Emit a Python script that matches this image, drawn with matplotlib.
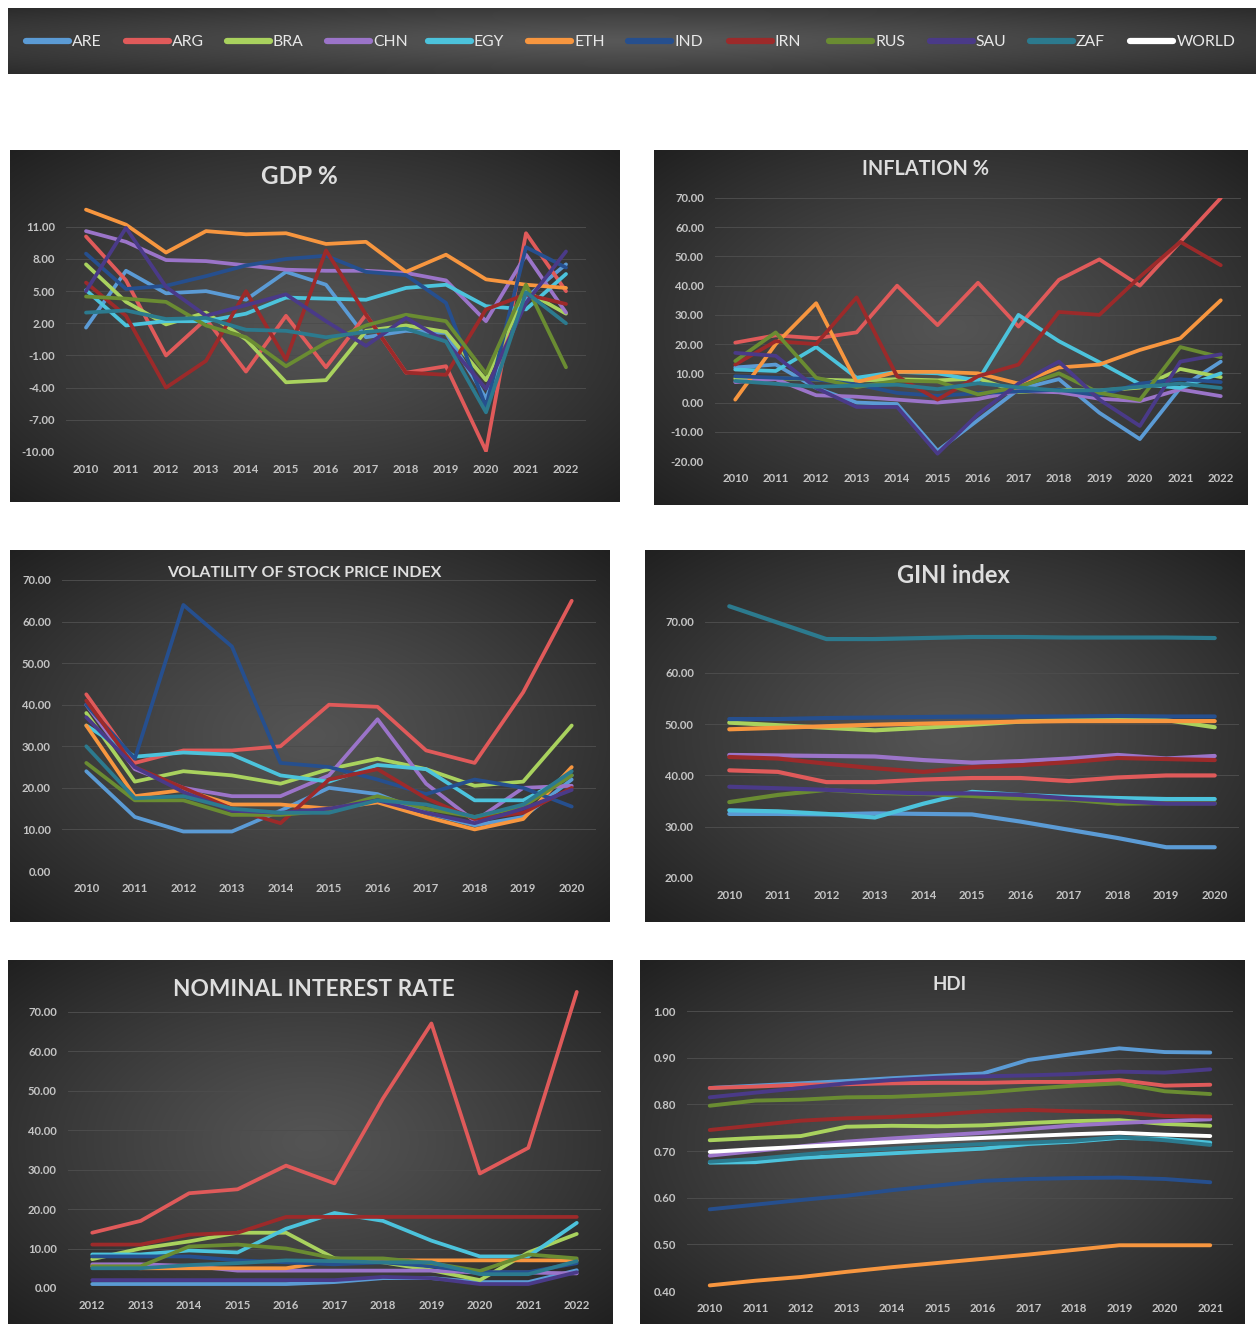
import numpy as np
import matplotlib
matplotlib.use("Agg")
import matplotlib.pyplot as plt

plt.rcParams['font.family'] = ['Lato', 'DejaVu Sans']

W, H = 1256, 1324

countries = ["ARE", "ARG", "BRA", "CHN", "EGY", "ETH", "IND", "IRN", "RUS", "SAU", "ZAF", "WORLD"]
colors = {
    "ARE": "#5b9bd5", "ARG": "#e05a5a", "BRA": "#a9d25e", "CHN": "#9b74c9",
    "EGY": "#4cc3dc", "ETH": "#f7963f", "IND": "#264f8e", "IRN": "#9c2a2a",
    "RUS": "#6a8c32", "SAU": "#4a3a88", "ZAF": "#2c7a8e", "WORLD": "#ffffff",
}

# ---------------- data ----------------
years_gdp = [2010, 2011, 2012, 2013, 2014, 2015, 2016, 2017, 2018, 2019, 2020, 2021, 2022]
gdp = {
    "ARE": [1.6, 6.9, 4.8, 5.0, 4.2, 6.8, 5.6, 0.7, 1.3, 1.1, -5.0, 4.4, 7.5],
    "ARG": [10.1, 6.0, -1.0, 2.4, -2.5, 2.7, -2.1, 2.8, -2.6, -2.0, -9.9, 10.4, 5.0],
    "BRA": [7.5, 4.0, 1.9, 3.0, 0.5, -3.5, -3.3, 1.3, 1.8, 1.2, -3.3, 5.0, 2.9],
    "CHN": [10.6, 9.6, 7.9, 7.8, 7.4, 7.0, 6.9, 6.9, 6.7, 6.0, 2.2, 8.4, 3.0],
    "EGY": [5.1, 1.8, 2.2, 2.2, 2.9, 4.4, 4.3, 4.2, 5.3, 5.6, 3.6, 3.3, 6.6],
    "ETH": [12.6, 11.2, 8.6, 10.6, 10.3, 10.4, 9.4, 9.6, 6.8, 8.4, 6.1, 5.6, 5.3],
    "IND": [8.5, 5.2, 5.5, 6.4, 7.4, 8.0, 8.3, 6.8, 6.5, 3.9, -5.8, 9.1, 7.2],
    "IRN": [5.8, 2.7, -4.0, -1.5, 5.0, -1.4, 8.8, 2.8, -2.6, -2.8, 3.3, 4.7, 3.8],
    "RUS": [4.5, 4.3, 4.0, 1.8, 0.7, -2.0, 0.2, 1.8, 2.8, 2.2, -2.7, 5.6, -2.1],
    "SAU": [5.0, 10.9, 5.4, 2.7, 3.7, 4.7, 2.2, -0.1, 2.5, 0.3, -4.1, 3.9, 8.7],
    "ZAF": [3.0, 3.2, 2.4, 2.5, 1.4, 1.3, 0.7, 1.2, 1.5, 0.3, -6.3, 4.9, 2.0],
}

years_infl = [2010, 2011, 2012, 2013, 2014, 2015, 2016, 2017, 2018, 2019, 2020, 2021, 2022]
inflation = {
    "ARE": [12.0, 13.0, 5.0, 0.0, -0.5, -16.5, -6.0, 4.5, 8.0, -3.5, -12.5, 5.0, 14.0],
    "ARG": [20.5, 23.0, 22.0, 24.0, 40.0, 26.5, 41.0, 26.0, 42.0, 49.0, 40.0, 55.0, 70.0],
    "BRA": [8.2, 8.3, 7.9, 7.5, 8.0, 7.6, 8.2, 3.6, 4.4, 4.1, 5.1, 11.5, 8.7],
    "CHN": [7.0, 8.0, 2.5, 2.0, 1.0, 0.0, 1.2, 4.0, 3.5, 1.3, 0.5, 4.5, 2.2],
    "EGY": [11.3, 10.8, 19.0, 8.5, 10.5, 10.0, 7.5, 30.0, 21.0, 13.8, 6.3, 5.0, 10.0],
    "ETH": [1.0, 20.0, 34.0, 7.0, 10.5, 10.5, 10.0, 6.5, 12.0, 13.0, 18.0, 22.0, 35.0],
    "IND": [9.0, 8.5, 7.9, 6.2, 3.3, 2.3, 3.2, 3.8, 4.4, 2.4, 6.5, 8.0, 7.0],
    "IRN": [13.0, 21.0, 20.0, 36.0, 9.0, 1.0, 9.0, 13.0, 31.0, 30.0, 43.0, 55.0, 47.0],
    "RUS": [14.2, 24.0, 8.5, 5.3, 7.5, 7.2, 2.8, 5.3, 10.0, 3.3, 0.9, 19.0, 15.5],
    "SAU": [17.0, 16.0, 5.0, -1.5, -1.5, -17.5, -4.0, 6.5, 14.0, 1.0, -8.0, 14.0, 16.5],
    "ZAF": [7.4, 6.4, 5.4, 5.8, 6.1, 4.6, 6.6, 5.2, 4.1, 4.2, 5.4, 6.5, 5.0],
}

years_vol = [2010, 2011, 2012, 2013, 2014, 2015, 2016, 2017, 2018, 2019, 2020]
volatility = {
    "ARE": [24.0, 13.0, 9.5, 9.5, 14.5, 20.0, 18.5, 14.0, 11.0, 13.0, 22.0],
    "ARG": [42.5, 26.0, 29.0, 29.0, 30.0, 40.0, 39.5, 29.0, 26.0, 43.0, 65.0],
    "BRA": [38.0, 21.5, 24.0, 23.0, 21.0, 24.5, 27.0, 24.5, 20.5, 21.5, 35.0],
    "CHN": [40.0, 24.5, 20.0, 18.0, 18.0, 23.0, 36.5, 21.0, 12.0, 20.0, 20.5],
    "EGY": [35.0, 27.5, 28.5, 28.0, 23.0, 21.5, 25.5, 24.5, 17.0, 17.0, 23.0],
    "ETH": [35.0, 18.0, 19.5, 16.0, 16.0, 15.0, 16.5, 13.0, 10.0, 12.5, 25.0],
    "IND": [40.0, 27.0, 64.0, 54.0, 26.0, 25.0, 22.0, 18.5, 22.0, 20.0, 15.5],
    "IRN": [41.0, 25.0, 20.0, 15.0, 11.5, 22.0, 24.5, 17.5, 12.5, 14.0, 20.0],
    "RUS": [26.0, 17.0, 17.0, 13.5, 13.5, 14.5, 18.0, 15.0, 13.0, 15.5, 23.0],
    "SAU": [37.0, 25.0, 19.0, 14.5, 14.0, 15.0, 17.0, 14.0, 11.5, 15.0, 19.5],
    "ZAF": [30.0, 17.5, 18.0, 15.0, 14.0, 14.0, 17.0, 16.0, 13.0, 16.0, 24.0],
}

years_gini = [2010, 2011, 2012, 2013, 2014, 2015, 2016, 2017, 2018, 2019, 2020]
gini = {
    "ARE": [32.5, 32.5, 32.4, 32.6, 32.5, 32.4, 31.0, 29.4, 27.8, 26.0, 26.0],
    "ARG": [41.0, 40.7, 38.7, 38.7, 39.2, 39.5, 39.5, 38.9, 39.6, 40.0, 40.0],
    "BRA": [50.3, 49.8, 49.3, 48.8, 49.3, 49.9, 50.5, 50.8, 50.8, 50.8, 49.4],
    "CHN": [44.0, 43.9, 43.8, 43.7, 43.0, 42.5, 42.8, 43.3, 44.0, 43.3, 43.8],
    "EGY": [33.2, 33.0, 32.5, 31.8, 34.5, 36.8, 36.2, 35.8, 35.6, 35.4, 35.4],
    "ETH": [49.0, 49.3, 49.6, 49.9, 50.1, 50.3, 50.5, 50.6, 50.6, 50.6, 50.6],
    "IND": [51.0, 51.0, 51.2, 51.3, 51.4, 51.5, 51.5, 51.5, 51.6, 51.5, 51.5],
    "IRN": [43.6, 43.3, 42.3, 41.4, 40.7, 41.6, 42.0, 42.6, 43.4, 43.2, 43.0],
    "RUS": [34.8, 36.2, 37.2, 36.6, 36.4, 36.0, 35.5, 35.3, 34.5, 34.6, 34.6],
    "SAU": [37.8, 37.5, 37.2, 36.8, 36.5, 36.5, 36.2, 35.5, 35.0, 34.5, 34.5],
    "ZAF": [73.0, 69.8, 66.6, 66.6, 66.8, 67.0, 67.0, 66.9, 66.9, 66.9, 66.8],
}

years_rate = [2012, 2013, 2014, 2015, 2016, 2017, 2018, 2019, 2020, 2021, 2022]
interest = {
    "ARE": [1.0, 1.0, 1.0, 1.0, 1.0, 1.5, 2.5, 2.5, 1.5, 1.5, 4.5],
    "ARG": [14.0, 17.0, 24.0, 25.0, 31.0, 26.5, 48.0, 67.0, 29.0, 35.5, 75.0],
    "BRA": [7.3, 10.0, 11.8, 14.0, 14.0, 7.5, 6.5, 4.5, 2.0, 9.0, 13.7],
    "CHN": [6.0, 6.0, 5.6, 4.4, 4.4, 4.4, 4.4, 4.4, 3.9, 3.9, 3.7],
    "EGY": [8.5, 8.5, 9.5, 9.0, 15.0, 19.0, 17.0, 12.0, 8.0, 8.0, 16.5],
    "ETH": [5.5, 5.0, 5.0, 5.0, 5.0, 7.0, 7.0, 7.0, 7.0, 7.0, 7.0],
    "IND": [8.0, 8.0, 8.0, 7.0, 6.5, 6.0, 6.5, 5.5, 4.0, 4.0, 6.3],
    "IRN": [11.0, 11.0, 13.5, 14.0, 18.0, 18.0, 18.0, 18.0, 18.0, 18.0, 18.0],
    "RUS": [5.5, 5.5, 10.5, 11.0, 10.0, 7.5, 7.5, 6.3, 4.3, 8.5, 7.5],
    "SAU": [2.0, 2.0, 2.0, 2.0, 2.0, 2.0, 2.8, 2.5, 1.0, 1.0, 4.0],
    "ZAF": [5.0, 5.0, 5.8, 6.3, 7.0, 6.8, 6.5, 6.5, 3.5, 3.5, 6.8],
}

years_hdi = [2010, 2011, 2012, 2013, 2014, 2015, 2016, 2017, 2018, 2019, 2020, 2021]
hdi = {
    "ARE": [0.835, 0.840, 0.845, 0.850, 0.856, 0.861, 0.866, 0.895, 0.908, 0.920, 0.912, 0.911],
    "ARG": [0.835, 0.838, 0.842, 0.843, 0.845, 0.846, 0.846, 0.848, 0.848, 0.852, 0.840, 0.842],
    "BRA": [0.723, 0.728, 0.732, 0.752, 0.754, 0.753, 0.755, 0.760, 0.764, 0.766, 0.758, 0.754],
    "CHN": [0.690, 0.700, 0.710, 0.720, 0.727, 0.733, 0.739, 0.747, 0.755, 0.760, 0.764, 0.768],
    "EGY": [0.675, 0.676, 0.685, 0.690, 0.695, 0.700, 0.705, 0.715, 0.720, 0.728, 0.726, 0.718],
    "ETH": [0.412, 0.422, 0.430, 0.441, 0.451, 0.460, 0.469, 0.478, 0.488, 0.498, 0.498, 0.498],
    "IND": [0.575, 0.585, 0.595, 0.604, 0.616, 0.626, 0.636, 0.640, 0.642, 0.643, 0.640, 0.633],
    "IRN": [0.745, 0.755, 0.765, 0.770, 0.773, 0.778, 0.785, 0.788, 0.785, 0.783, 0.775, 0.774],
    "RUS": [0.797, 0.808, 0.810, 0.815, 0.816, 0.820, 0.825, 0.833, 0.840, 0.845, 0.828, 0.822],
    "SAU": [0.815, 0.825, 0.835, 0.845, 0.852, 0.857, 0.860, 0.862, 0.865, 0.870, 0.868, 0.875],
    "ZAF": [0.677, 0.683, 0.692, 0.700, 0.705, 0.710, 0.715, 0.718, 0.722, 0.730, 0.723, 0.713],
    "WORLD": [0.698, 0.704, 0.709, 0.714, 0.719, 0.724, 0.728, 0.732, 0.736, 0.739, 0.735, 0.732],
}

# ---------------- drawing helpers ----------------
fig = plt.figure(figsize=(W / 100, H / 100), dpi=100)
fig.patch.set_facecolor("white")


def rect(x0, y0, x1, y1):
    return [x0 / W, 1 - y1 / H, (x1 - x0) / W, (y1 - y0) / H]


def backdrop(box, inner="#545454", outer="#1f1f1f", cy=0.5):
    ax = fig.add_axes(rect(*box))
    ax.set_axis_off()
    ny, nx = 240, 360
    yy, xx = np.mgrid[0:1:ny * 1j, 0:1:nx * 1j]
    r = np.sqrt((xx - 0.5) ** 2 + (yy - cy) ** 2) / 0.72
    r = np.clip(r, 0, 1)[..., None] ** 1.2
    ci = np.array(matplotlib.colors.to_rgb(inner))
    co = np.array(matplotlib.colors.to_rgb(outer))
    img = ci * (1 - r) + co * r
    ax.imshow(img, extent=[0, 1, 0, 1], aspect="auto", origin="lower", interpolation="bilinear")
    ax.set_xlim(0, 1)
    ax.set_ylim(0, 1)
    return ax


def chart(bg_box, plot_box, title, title_pos, title_size, years, data, ylim, yticks,
          fmt="{:.2f}", lw=2.7):
    backdrop(bg_box)
    ax = fig.add_axes(rect(*plot_box))
    ax.set_facecolor("none")
    for c in countries:
        if c in data:
            ax.plot(years, data[c], color=colors[c], lw=lw,
                    solid_capstyle="round", solid_joinstyle="round")
    ax.set_xlim(years[0] - 0.5, years[-1] + 0.5)
    ax.set_ylim(*ylim)
    ax.set_yticks(yticks)
    ax.set_yticklabels([fmt.format(v) for v in yticks])
    ax.set_xticks(years)
    ax.set_xticklabels([str(y) for y in years])
    ax.grid(axis="y", color="#4c4c4c", lw=0.7)
    ax.set_axisbelow(True)
    for s in ax.spines.values():
        s.set_visible(False)
    ax.tick_params(axis="both", length=0, colors="#c4c4c4", labelsize=8.2)
    ax.tick_params(axis="y", pad=8)
    ax.tick_params(axis="x", pad=8.5)
    for lab in ax.get_xticklabels() + ax.get_yticklabels():
        lab.set_fontweight("bold")
    fig.text(title_pos[0] / W, 1 - title_pos[1] / H, title, ha="center", va="center",
             color="#dedede", fontsize=title_size, fontweight="bold")
    return ax


# ---------------- legend bar ----------------
backdrop((8, 8, 1256, 74), inner="#585858", outer="#2a2a2a")
lax = fig.add_axes(rect(8, 8, 1256, 74))
lax.set_axis_off()
lax.set_xlim(8, 1256)
lax.set_ylim(74, 8)
for i, c in enumerate(countries):
    x0 = 26 + i * 100.4
    lax.plot([x0, x0 + 43], [41, 41], color=colors[c], lw=4.5, solid_capstyle="round")
    lax.text(x0 + 46, 41.5, c, ha="left", va="center", color="#e8e8e8", fontsize=11.3)

# ---------------- panels ----------------
chart((10, 150, 620, 502), (66, 200, 586, 452), "GDP %", (299, 177), 17.5,
      years_gdp, gdp, (-10, 13.5), [-10, -7, -4, -1, 2, 5, 8, 11])

chart((654, 150, 1248, 505), (715, 198, 1241, 461), "INFLATION %", (925, 169), 14.3,
      years_infl, inflation, (-20, 70), [-20, -10, 0, 10, 20, 30, 40, 50, 60, 70])

chart((10, 550, 610, 922), (62, 580, 596, 871), "VOLATILITY OF STOCK PRICE INDEX", (304, 573), 11.5,
      years_vol, volatility, (0, 70), [0, 10, 20, 30, 40, 50, 60, 70])

chart((645, 550, 1245, 922), (705, 596, 1239, 878), "GINI index", (953, 576), 17,
      years_gini, gini, (20, 75), [20, 30, 40, 50, 60, 70], lw=3.0)

chart((8, 960, 613, 1324), (68, 984, 601, 1288), "NOMINAL INTEREST RATE", (314, 989), 16.3,
      years_rate, interest, (0, 77), [0, 10, 20, 30, 40, 50, 60, 70])

chart((640, 960, 1245, 1324), (687, 1011, 1233, 1291), "HDI", (950, 985), 13.5,
      years_hdi, hdi, (0.4, 1.0), [0.4, 0.5, 0.6, 0.7, 0.8, 0.9, 1.0], lw=2.8)

fig.savefig("out.png", dpi=100, facecolor="white")
